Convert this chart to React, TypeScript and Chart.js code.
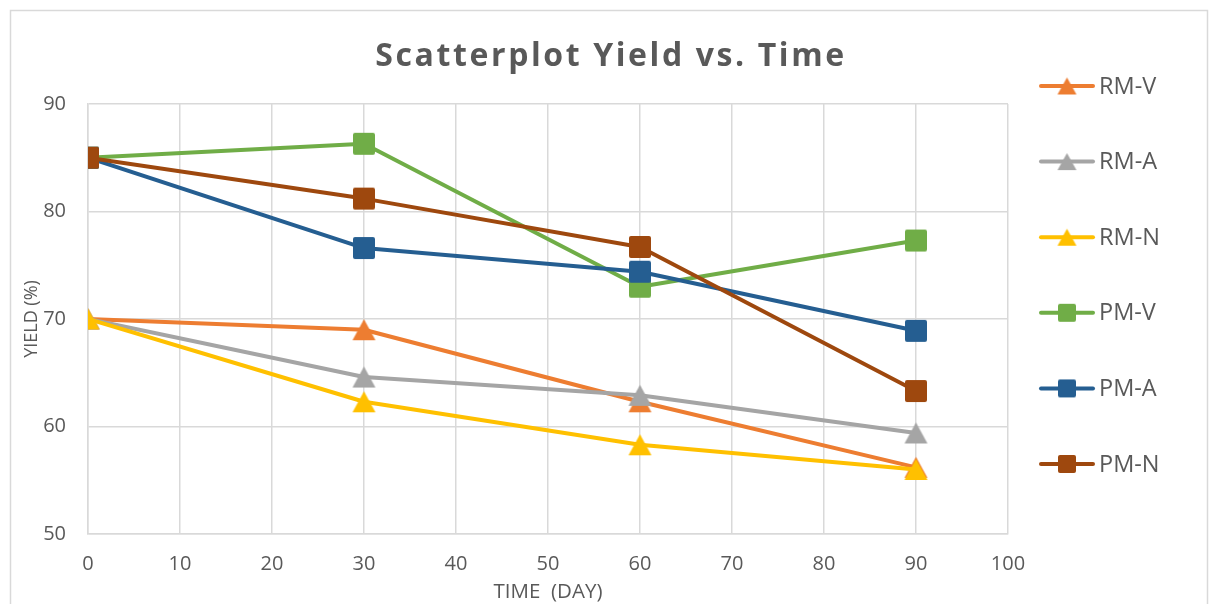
import React, { useEffect, useRef } from "react";
import { Chart, registerables } from "chart.js";

Chart.register(...registerables);

// ---- Data ----
const SERIES_NAMES = ["RM-V", "RM-A", "RM-N", "PM-V", "PM-A", "PM-N"];
const TIME_DAYS = [0, 30, 60, 90];
const RM_V = [70, 69.0, 62.3, 56.2];
const RM_A = [70, 64.6, 62.9, 59.4];
const RM_N = [70, 62.3, 58.3, 56.0];
const PM_V = [85, 86.3, 73.0, 77.3];
const PM_A = [85, 76.6, 74.4, 68.9];
const PM_N = [85, 81.2, 76.7, 63.3];
const SERIES_VALUES = [RM_V, RM_A, RM_N, PM_V, PM_A, PM_N];
const SERIES_COLORS = ["#ED7D31", "#A5A5A5", "#FFC000", "#70AD47", "#255E91", "#9E480E"];
const SERIES_SHAPES = ["triangle", "triangle", "triangle", "square", "square", "square"];

const TITLE = "Scatterplot Yield vs. Time";
const X_TITLE = "TIME  (DAY)";
const Y_TITLE = "YIELD (%)";
const X_MIN = 0, X_MAX = 100, X_STEP = 10;
const Y_MIN = 50, Y_MAX = 90, Y_STEP = 10;

const FONT = '"Open Sans", "DejaVu Sans", sans-serif';
const TEXT_COLOR = "#595959";
const GRID_COLOR = "#D9D9D9";

function makeMarker(shape: string, color: string, w: number, h: number): HTMLCanvasElement {
  const c = document.createElement("canvas");
  c.width = w + 2;
  c.height = h + 2;
  const ctx = c.getContext("2d")!;
  ctx.fillStyle = color;
  ctx.beginPath();
  if (shape === "triangle") {
    ctx.moveTo(1 + w / 2, 1);
    ctx.lineTo(1 + w, 1 + h);
    ctx.lineTo(1, 1 + h);
    ctx.closePath();
  } else {
    const r = 2;
    const x = 1, y = 1;
    ctx.moveTo(x + r, y);
    ctx.lineTo(x + w - r, y);
    ctx.quadraticCurveTo(x + w, y, x + w, y + r);
    ctx.lineTo(x + w, y + h - r);
    ctx.quadraticCurveTo(x + w, y + h, x + w - r, y + h);
    ctx.lineTo(x + r, y + h);
    ctx.quadraticCurveTo(x, y + h, x, y + h - r);
    ctx.lineTo(x, y + r);
    ctx.quadraticCurveTo(x, y, x + r, y);
    ctx.closePath();
  }
  ctx.fill();
  return c;
}

export default function App() {
  const canvasRef = useRef<HTMLCanvasElement | null>(null);

  useEffect(() => {
    let chart: Chart | null = null;
    let cancelled = false;

    const build = () => {
      if (cancelled || !canvasRef.current) return;
      const plotMarkers = SERIES_SHAPES.map((s, i) =>
        s === "triangle" ? makeMarker(s, SERIES_COLORS[i], 23, 21) : makeMarker(s, SERIES_COLORS[i], 22, 22)
      );
      const legendMarkers = SERIES_SHAPES.map((s, i) =>
        s === "triangle" ? makeMarker(s, SERIES_COLORS[i], 19, 17) : makeMarker(s, SERIES_COLORS[i], 18, 18)
      );

      const decoPlugin = {
        id: "deco",
        beforeDraw(c: Chart) {
          const ctx = c.ctx;
          ctx.save();
          ctx.fillStyle = "#FFFFFF";
          ctx.fillRect(0, 0, c.width, c.height);
          ctx.strokeStyle = GRID_COLOR;
          ctx.lineWidth = 1.5;
          ctx.strokeRect(10.5, 10.5, 1197, 700);
          ctx.restore();
        },
        afterDraw(c: Chart) {
          const ctx = c.ctx;
          ctx.save();
          // title
          ctx.fillStyle = TEXT_COLOR;
          ctx.font = `bold 32px ${FONT}`;
          (ctx as any).letterSpacing = "2.6px";
          ctx.textAlign = "center";
          ctx.textBaseline = "alphabetic";
          ctx.fillText(TITLE, 611, 66);
          (ctx as any).letterSpacing = "0px";
          // legend
          ctx.font = `23.5px ${FONT}`;
          ctx.textAlign = "left";
          ctx.textBaseline = "middle";
          SERIES_NAMES.forEach((name, i) => {
            const y = 86 + i * 75.6;
            ctx.strokeStyle = SERIES_COLORS[i];
            ctx.lineWidth = 4;
            ctx.lineCap = "round";
            ctx.beginPath();
            ctx.moveTo(1041, y);
            ctx.lineTo(1093, y);
            ctx.stroke();
            const m = legendMarkers[i];
            ctx.drawImage(m, 1067 - m.width / 2, y - m.height / 2);
            ctx.fillStyle = TEXT_COLOR;
            ctx.fillText(name, 1099, y + 1);
          });
          ctx.restore();
        },
      };

      const datasets = SERIES_NAMES.map((name, i) => ({
        label: name,
        data: TIME_DAYS.map((x, j) => ({ x, y: SERIES_VALUES[i][j] })),
        showLine: true,
        borderColor: SERIES_COLORS[i],
        backgroundColor: SERIES_COLORS[i],
        borderWidth: 4,
        borderJoinStyle: "round" as const,
        borderCapStyle: "round" as const,
        pointStyle: plotMarkers[i],
        pointRadius: 11,
        tension: 0,
        order: SERIES_NAMES.length - i,
      }));

      chart = new Chart(canvasRef.current, {
        type: "scatter",
        data: { datasets },
        plugins: [decoPlugin],
        options: {
          responsive: false,
          animation: false,
          devicePixelRatio: 1,
          layout: { padding: { left: 0, right: 202, top: 104, bottom: 0 } },
          plugins: {
            legend: { display: false },
            title: { display: false },
            tooltip: { enabled: false },
          },
          scales: {
            x: {
              type: "linear",
              min: X_MIN,
              max: X_MAX,
              afterFit: (s: any) => { s.height = 70; },
              ticks: {
                stepSize: X_STEP,
                padding: 18,
                color: TEXT_COLOR,
                font: { family: FONT, size: 20 },
                maxRotation: 0,
              },
              grid: { color: GRID_COLOR, lineWidth: 1.5, drawTicks: false },
              border: { color: GRID_COLOR, width: 1.5 },
              title: {
                display: true,
                text: X_TITLE,
                color: TEXT_COLOR,
                font: { family: FONT, size: 20.5 },
                padding: { top: 0, bottom: 0 },
              },
            },
            y: {
              type: "linear",
              min: Y_MIN,
              max: Y_MAX,
              afterFit: (s: any) => { s.width = 88; },
              ticks: {
                stepSize: Y_STEP,
                padding: 22,
                color: TEXT_COLOR,
                font: { family: FONT, size: 20 },
              },
              grid: { color: GRID_COLOR, lineWidth: 1.5, drawTicks: false },
              border: { color: GRID_COLOR, width: 1.5 },
              title: {
                display: true,
                text: Y_TITLE,
                color: TEXT_COLOR,
                font: { family: FONT, size: 18 },
                padding: { top: 21, bottom: 0 },
              },
            },
          },
        },
      });
    };

    const fonts: any = (document as any).fonts;
    if (fonts && fonts.load) {
      Promise.all([
        fonts.load(`20px "Open Sans"`),
        fonts.load(`bold 32px "Open Sans"`),
      ]).then(build, build);
    } else {
      build();
    }

    return () => {
      cancelled = true;
      if (chart) chart.destroy();
    };
  }, []);

  return (
    <canvas
      ref={canvasRef}
      width={1210}
      height={604}
      style={{ position: "absolute", left: 0, top: 0, display: "block", width: 1210, height: 604 }}
    />
  );
}
